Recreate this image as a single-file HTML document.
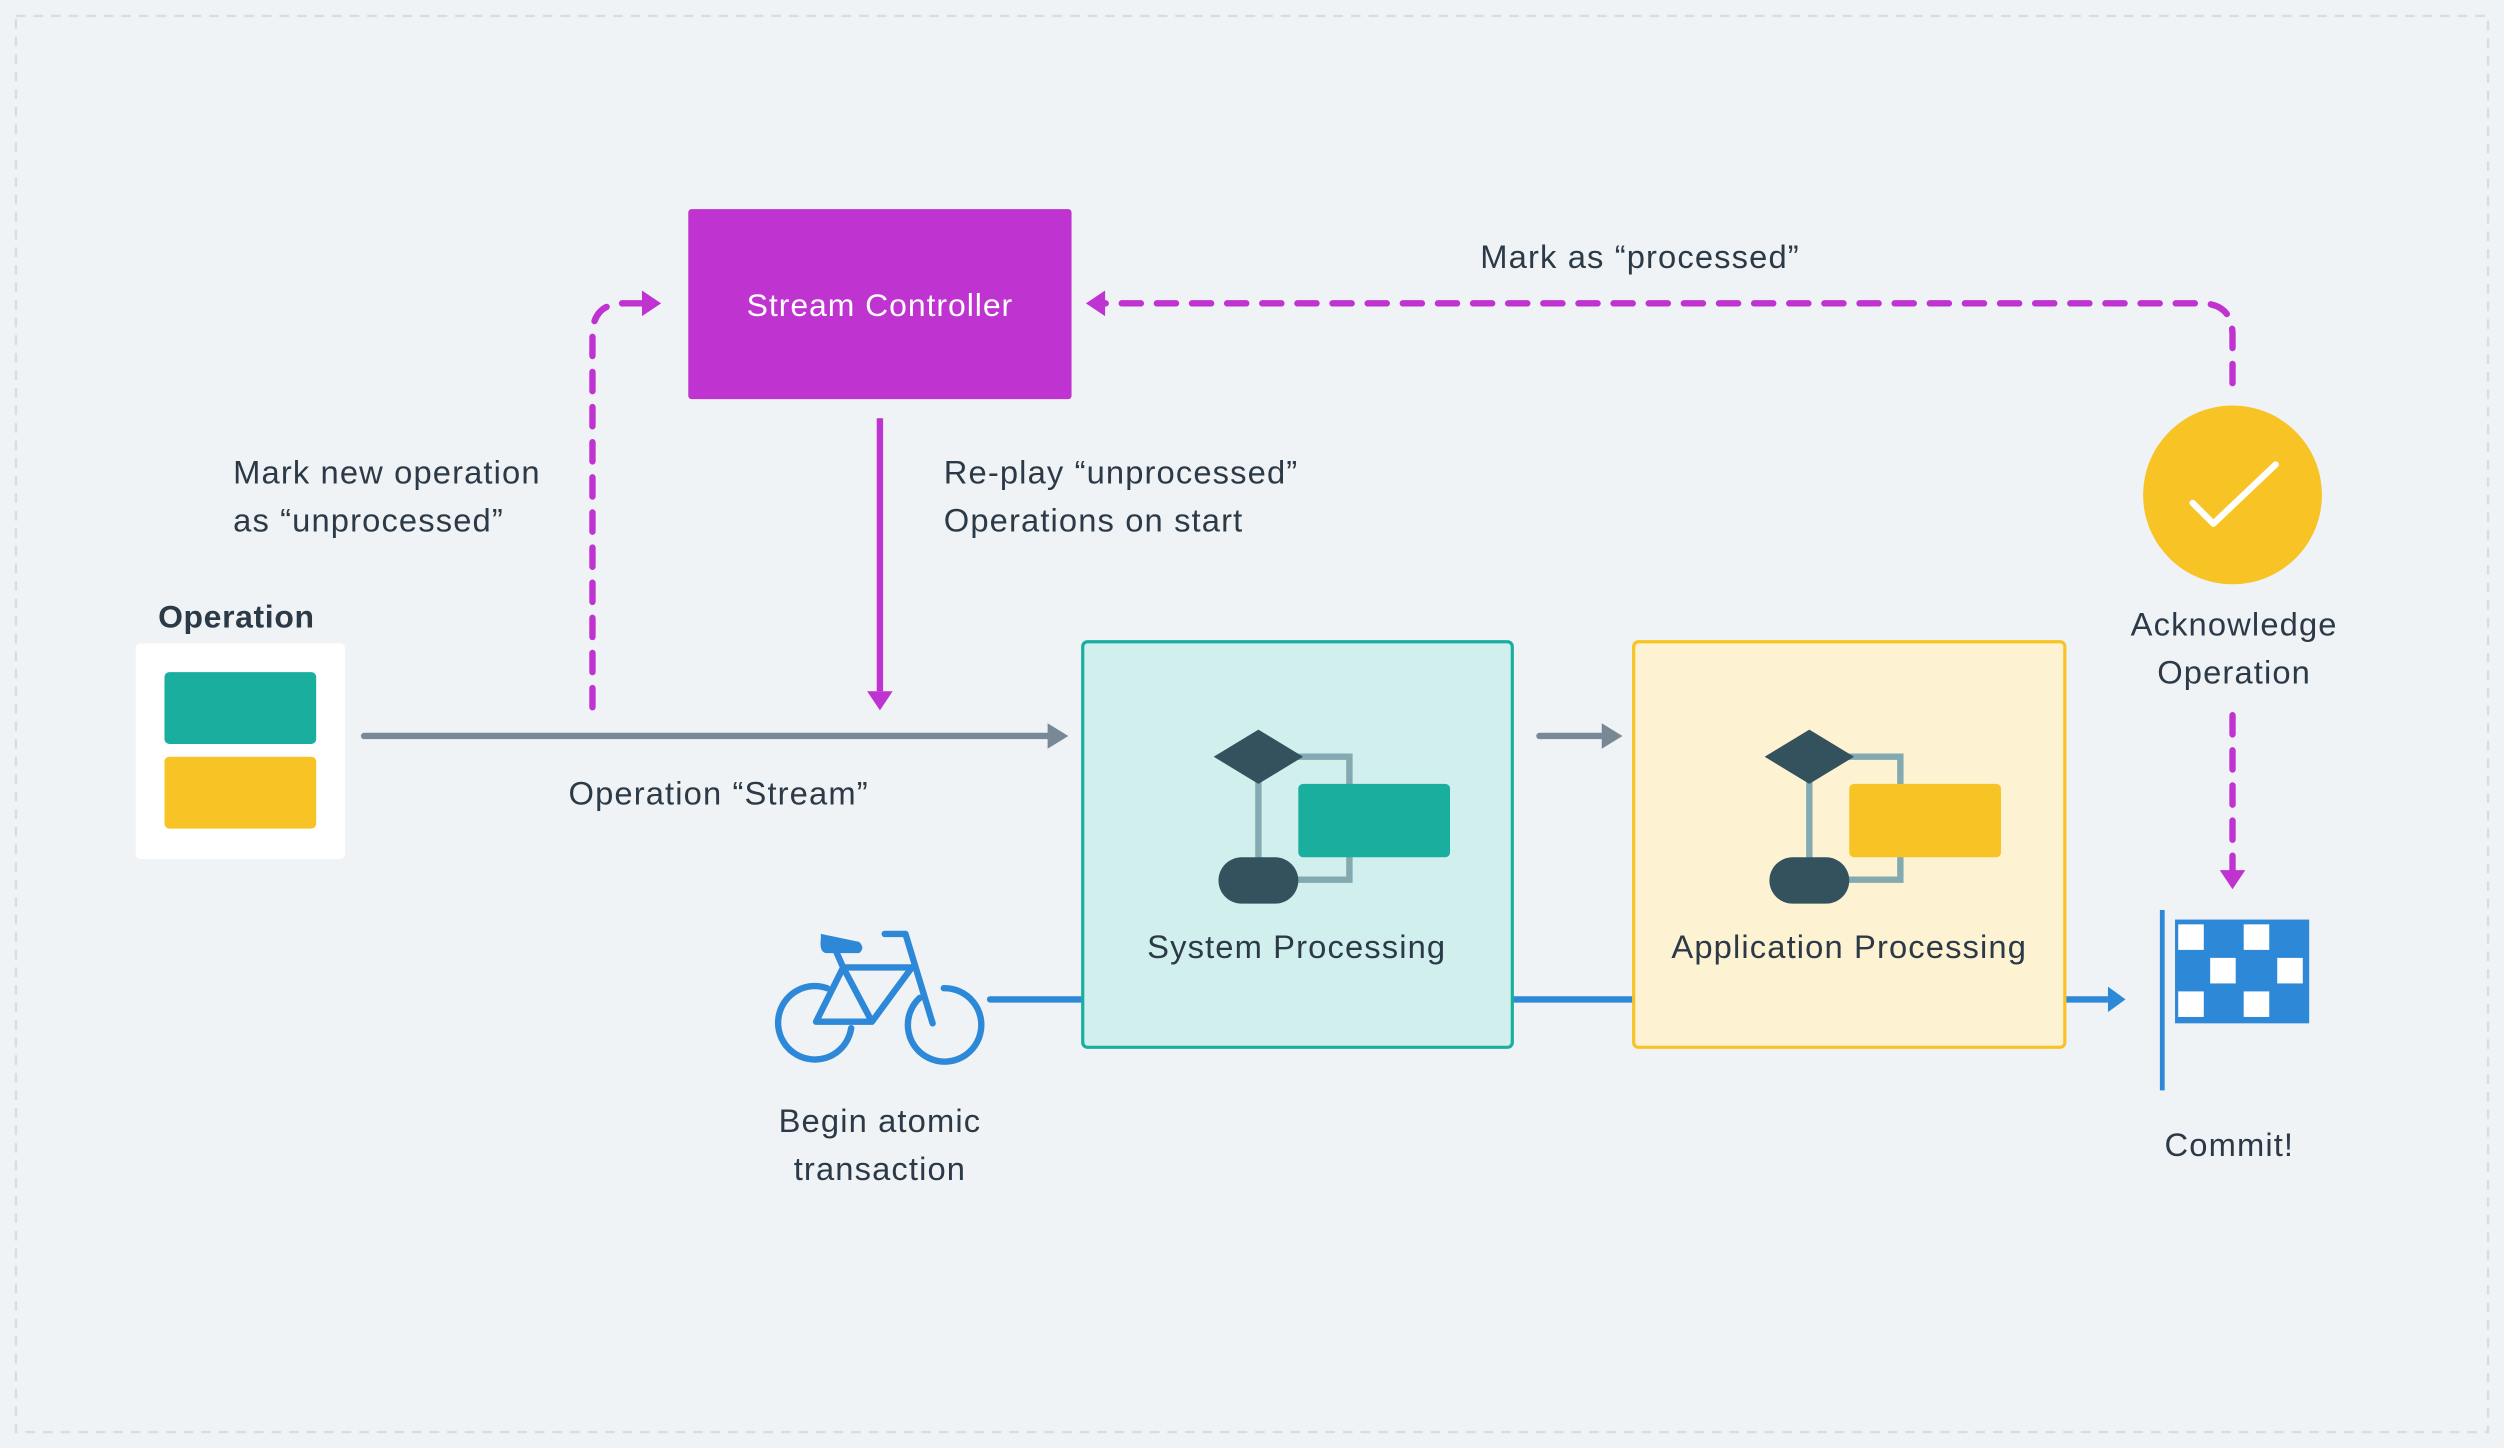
<!DOCTYPE html>
<html><head><style>html,body{margin:0;padding:0;background:#eff3f6}svg{display:block}</style></head><body>
<svg width="2504" height="1448" viewBox="0 0 1568 907" preserveAspectRatio="none" xmlns="http://www.w3.org/2000/svg" font-family="Liberation Sans, DejaVu Sans, sans-serif">
<rect x="0" y="0" width="1568" height="907" fill="#eff3f6"/>
<rect x="10" y="10" width="1548" height="887" fill="none" stroke="#d6dde3" stroke-width="1.5" stroke-dasharray="6 5"/>
<!-- stream controller -->
<rect x="431" y="131" width="240" height="119" rx="2" fill="#bf33d0"/>
<text x="551" y="198" font-size="20" letter-spacing="0.6" fill="#fff" text-anchor="middle">Stream Controller</text>
<!-- operation card -->
<text x="148" y="393" font-size="20" letter-spacing="0.4" font-weight="bold" fill="#2c3a47" text-anchor="middle">Operation</text>
<rect x="85" y="403" width="131" height="135" rx="3" fill="#fff"/>
<rect x="103" y="421" width="95" height="45" rx="3" fill="#1aae9f"/>
<rect x="103" y="474" width="95" height="45" rx="3" fill="#f7c325"/>
<!-- gray stream line -->
<line x1="228" y1="461" x2="658" y2="461" stroke="#788896" stroke-width="4" stroke-linecap="round"/>
<path d="M656,453 L669,461 L656,469z" fill="#788896"/>
<line x1="964" y1="461" x2="1004" y2="461" stroke="#788896" stroke-width="4" stroke-linecap="round"/>
<path d="M1003,453 L1016,461 L1003,469z" fill="#788896"/>
<!-- magenta dashed left -->
<path d="M371,443 L371,210 Q371,190 391,190 L402,190" fill="none" stroke="#bf33d0" stroke-width="4" stroke-dasharray="12 10" stroke-linecap="round"/>
<path d="M402,182 L414,190 L402,198z" fill="#bf33d0"/>
<!-- solid magenta down -->
<line x1="551" y1="262" x2="551" y2="433" stroke="#bf33d0" stroke-width="4"/>
<path d="M543,433 L551,445 L559,433z" fill="#bf33d0"/>
<!-- top dashed -->
<path d="M1398,240 L1398,210 Q1398,190 1378,190 L692,190" fill="none" stroke="#bf33d0" stroke-width="4" stroke-dasharray="12 10" stroke-linecap="round"/>
<path d="M692,182 L680,190 L692,198z" fill="#bf33d0"/>
<!-- down dashed -->
<path d="M1398,448 L1398,545" fill="none" stroke="#bf33d0" stroke-width="4" stroke-dasharray="12 10" stroke-linecap="round"/>
<path d="M1390,545 L1398,557 L1406,545z" fill="#bf33d0"/>
<!-- check circle -->
<circle cx="1398" cy="310" r="56" fill="#f7c325"/>
<path d="M1373,315 L1386,328 L1425,291" fill="none" stroke="#fff" stroke-width="4" stroke-linecap="round" stroke-linejoin="round"/>
<!-- texts -->
<g font-size="20.5" letter-spacing="0.7" fill="#2c3a47">
<text x="146" y="303">Mark new operation</text>
<text x="146" y="333">as “unprocessed”</text>
<text x="591" y="303">Re-play “unprocessed”</text>
<text x="591" y="333">Operations on start</text>
<text x="1027" y="168" text-anchor="middle">Mark as “processed”</text>
<text x="450" y="504" text-anchor="middle">Operation “Stream”</text>
<text x="1399" y="398" text-anchor="middle">Acknowledge</text>
<text x="1399" y="428" text-anchor="middle">Operation</text>
<text x="551" y="709" text-anchor="middle">Begin atomic</text>
<text x="551" y="739" text-anchor="middle">transaction</text>
<text x="1396" y="724" text-anchor="middle">Commit!</text>
</g>
<!-- blue line -->
<line x1="620" y1="626" x2="680" y2="626" stroke="#2e88d8" stroke-width="4" stroke-linecap="round"/>
<line x1="946" y1="626" x2="1024" y2="626" stroke="#2e88d8" stroke-width="4"/>
<line x1="1292" y1="626" x2="1320" y2="626" stroke="#2e88d8" stroke-width="4"/>
<path d="M1320,618 L1331,626 L1320,634z" fill="#2e88d8"/>
<!-- boxes -->
<rect x="678" y="402" width="269" height="254" rx="3" fill="#d1efed" stroke="#1aae9f" stroke-width="2"/>
<rect x="1023" y="402" width="270" height="254" rx="3" fill="#fdf2d2" stroke="#f7c325" stroke-width="2"/>
<g>
<path d="M788,474 L845,474 L845,551 L812,551" fill="none" stroke="#83aab0" stroke-width="4"/>
<line x1="788" y1="474" x2="788" y2="545" stroke="#83aab0" stroke-width="4"/>
<path d="M788,457 L816,474 L788,491 L760,474z" fill="#34515e"/>
<rect x="813" y="491" width="95" height="46" rx="3" fill="#1aae9f"/>
<rect x="763" y="537" width="50" height="29" rx="14.5" fill="#34515e"/>
</g>
<g transform="translate(345,0)">
<path d="M788,474 L845,474 L845,551 L812,551" fill="none" stroke="#83aab0" stroke-width="4"/>
<line x1="788" y1="474" x2="788" y2="545" stroke="#83aab0" stroke-width="4"/>
<path d="M788,457 L816,474 L788,491 L760,474z" fill="#34515e"/>
<rect x="813" y="491" width="95" height="46" rx="3" fill="#f7c325"/>
<rect x="763" y="537" width="50" height="29" rx="14.5" fill="#34515e"/>
</g>
<text x="812" y="600" font-size="20.5" letter-spacing="0.7" fill="#2c3a47" text-anchor="middle">System Processing</text>
<text x="1158" y="600" font-size="20.5" letter-spacing="0.7" fill="#2c3a47" text-anchor="middle">Application Processing</text>
<!-- bike -->
<g fill="none" stroke="#2e88d8" stroke-width="4" stroke-linecap="round" stroke-linejoin="round">
<path d="M518,619 A23,23 0 1 0 533,644"/>
<path d="M591,619 A23,23 0 1 1 576,625"/>
<path d="M511,640 L528,606 L546,640 Z M528,606 L571,606 L546,640 M528,606 L524,597 M554,585 L567,585 L584,641"/>
</g>
<path d="M514,585 L538,590 Q542,594 538,597 L517,597 Q513,596 514,588z" fill="#2e88d8"/>
<!-- flag -->
<line x1="1354" y1="570" x2="1354" y2="683" stroke="#2e88d8" stroke-width="3"/>
<rect x="1362" y="576" width="84" height="65" fill="#2e88d8"/>
<g fill="#fff">
<rect x="1364" y="579" width="16" height="16"/><rect x="1405" y="579" width="16" height="16"/>
<rect x="1384" y="600" width="16" height="16"/><rect x="1426" y="600" width="16" height="16"/>
<rect x="1364" y="621" width="16" height="16"/><rect x="1405" y="621" width="16" height="16"/>
</g>
</svg>
</body></html>
